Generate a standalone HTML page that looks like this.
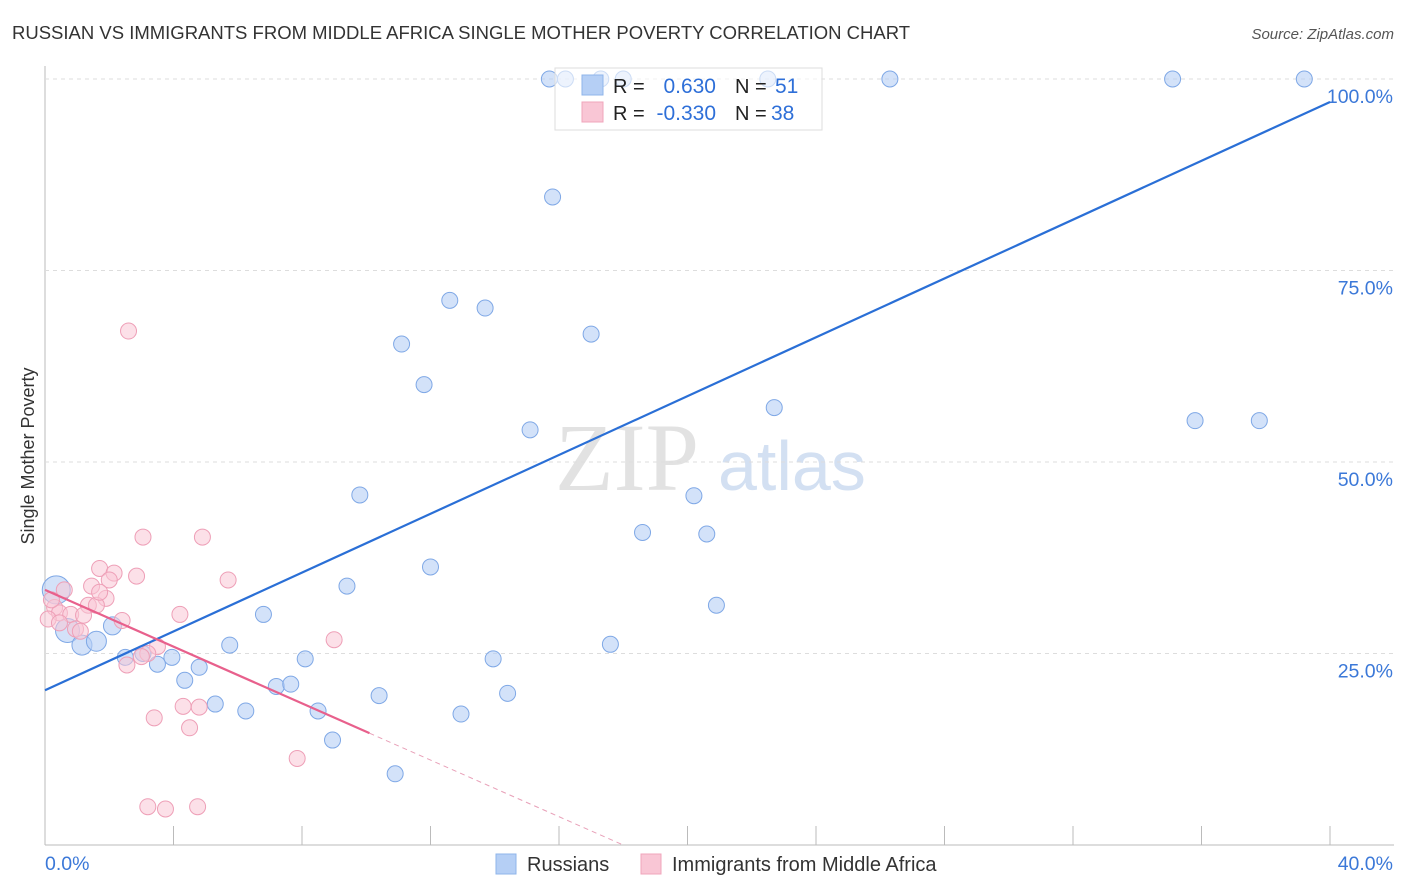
<!DOCTYPE html>
<html><head><meta charset="utf-8"><style>
body{margin:0;background:#fff;font-family:"Liberation Sans",sans-serif}
svg{display:block}
</style></head><body>
<svg id="c" width="1406" height="892" xmlns="http://www.w3.org/2000/svg">
<text x="12" y="39" font-size="18.5" fill="#333">RUSSIAN VS IMMIGRANTS FROM MIDDLE AFRICA SINGLE MOTHER POVERTY CORRELATION CHART</text>
<text x="1394" y="39" font-size="15" fill="#555" font-style="italic" text-anchor="end">Source: ZipAtlas.com</text>
<text x="34" y="456" font-size="18" fill="#333" text-anchor="middle" transform="rotate(-90 34 456)">Single Mother Poverty</text>
<g><text x="555" y="490" font-size="96" fill="#e2e2e2" font-family="Liberation Serif,serif">ZIP</text><text x="718" y="490" font-size="70" fill="#d3e0f2">atlas</text></g>
<g id="grid"></g><g id="pts"></g><g id="lines"></g>
<g>
<rect x="555" y="68" width="267" height="62" fill="#fff" fill-opacity="0.6" stroke="#ddd"/>
<rect x="582" y="75" width="21" height="20" fill="#b5cff5" stroke="#8fb4ea"/>
<rect x="582" y="102" width="21" height="20" fill="#f9c6d5" stroke="#f0a5bb"/>
<text x="613" y="93" font-size="20" fill="#222">R =</text><text x="716" y="93" font-size="21" fill="#2e6fd8" text-anchor="end">0.630</text>
<text x="735" y="93" font-size="20" fill="#222">N =</text><text x="775" y="93" font-size="21" fill="#2e6fd8">51</text>
<text x="613" y="120" font-size="20" fill="#222">R =</text><text x="716" y="120" font-size="21" fill="#2e6fd8" text-anchor="end">-0.330</text>
<text x="735" y="120" font-size="20" fill="#222">N =</text><text x="771" y="120" font-size="21" fill="#2e6fd8">38</text>
</g>
<g>
<rect x="496" y="854" width="20" height="20" fill="#b5cff5" stroke="#8fb4ea"/><text x="527" y="871" font-size="20" fill="#333">Russians</text>
<rect x="641" y="854" width="20" height="20" fill="#f9c6d5" stroke="#f0a5bb"/><text x="672" y="871" font-size="20" fill="#333">Immigrants from Middle Africa</text>
</g>
</svg>
<script>
const xTicks=[0,4,8,12,16,20,24,28,32,36,40];
const yTicks=[25,50,75,100];
const yTickLabels=["25.0%","50.0%","75.0%","100.0%"];
const blueX=[15.7,16.2,17.3,18.0,22.5,26.3,35.1,39.2,15.8,12.6,13.7,17.0,11.1,11.8,15.1,22.7,35.8,37.8,9.8,20.2,18.6,20.6,12.0,9.4,20.9,6.8,0.35,0.7,1.15,1.6,2.1,2.5,3.05,3.5,3.95,4.35,4.8,5.3,5.75,6.25,7.2,7.65,8.1,8.5,8.95,10.9,10.4,12.95,13.95,14.4,17.6];
const blueY=[100,100,100,100,100,100,100,100,84.6,71.1,70.1,66.7,65.4,60.1,54.2,57.1,55.4,55.4,45.7,45.6,40.8,40.6,36.3,33.8,31.3,30.1,33.3,28.0,26.1,26.6,28.6,24.5,25.0,23.6,24.5,21.5,23.2,18.4,26.1,17.5,20.7,21.0,24.3,17.5,13.7,9.3,19.5,17.1,24.3,19.8,26.2];
const blueR=[8,8,8,8,8,8,8,8,8,8,8,8,8,8,8,8,8,8,8,8,8,8,8,8,8,8,14,12,10,10,9,8,8,8,8,8,8,8,8,8,8,8,8,8,8,8,8,8,8,8,8];
const pinkX=[2.6,3.05,4.9,1.7,2.15,2.0,2.85,5.7,1.45,0.6,1.9,1.35,1.6,0.3,0.45,0.8,1.2,2.4,4.2,0.95,1.1,0.1,9.0,3.5,3.2,3.0,2.55,4.3,4.8,3.4,4.5,7.85,3.2,3.75,4.75,0.2,0.45,1.7];
const pinkY=[67.1,40.2,40.2,36.1,35.5,34.6,35.1,34.6,33.8,33.3,32.2,31.3,31.3,31.0,30.3,30.1,30.0,29.3,30.1,28.2,27.9,29.5,26.8,25.9,25.0,24.6,23.5,18.1,18.0,16.6,15.3,11.3,5.0,4.7,5.0,32.0,29.0,33.0];
const S='http://www.w3.org/2000/svg';
const X0=45,X1=1330,Y0=845,Y1=79;
const sx=v=>X0+(X1-X0)*v/40, sy=v=>Y0-(Y0-Y1)*v/100;
function mk(t,a,p){const e=document.createElementNS(S,t);for(const k in a)e.setAttribute(k,a[k]);p.appendChild(e);return e;}
const grid=document.getElementById('grid');
mk('line',{x1:X0,y1:66,x2:X0,y2:Y0,stroke:'#bbb'},grid);
mk('line',{x1:X0,y1:Y0,x2:1394,y2:Y0,stroke:'#bbb'},grid);
yTicks.forEach((t,i)=>{
 const g=mk('line',{x1:X0,y1:sy(t),x2:1394,y2:sy(t),stroke:'#ddd','stroke-dasharray':'4,4'},grid);
 
 
 const l=mk('text',{x:1393,y:sy(t)+24,'font-size':19.5,fill:'#3b78d8','text-anchor':'end'},grid);
 l.textContent=yTickLabels[i];
 
 
});
xTicks.forEach(t=>{
 if(t===0)return;
 const m=mk('line',{x1:sx(t),y1:826,x2:sx(t),y2:Y0,stroke:'#bbb'},grid);
 
 
});
const xl0=mk('text',{x:45,y:870,'font-size':19.5,fill:'#3b78d8'},grid);xl0.textContent='0.0%';


const xl1=mk('text',{x:1393,y:870,'font-size':19.5,fill:'#3b78d8','text-anchor':'end'},grid);xl1.textContent='40.0%';


const pts=document.getElementById('pts');
blueX.forEach((v,i)=>{
 const c=mk('circle',{cx:sx(v),cy:sy(blueY[i]),r:blueR[i],fill:'#b5cff5','fill-opacity':0.6,stroke:'#7fa8e6','stroke-width':1},pts);
 
 
});
pinkX.forEach((v,i)=>{
 const c=mk('circle',{cx:sx(v),cy:sy(pinkY[i]),r:8,fill:'#f9c6d5','fill-opacity':0.55,stroke:'#ee9fb7','stroke-width':1},pts);
 
 
});
const lines=document.getElementById('lines');
const bl=mk('line',{x1:sx(0),y1:sy(20.2),x2:sx(40),y2:sy(97.0),stroke:'#2a6fd6','stroke-width':2.2},lines);


const pl=mk('line',{x1:sx(0),y1:sy(33.3),x2:sx(10.1),y2:sy(14.6),stroke:'#e8608c','stroke-width':2.2},lines);


const pd=mk('line',{x1:sx(10.1),y1:sy(14.6),x2:sx(18.0),y2:sy(0),stroke:'#e8a0b8','stroke-width':1,'stroke-dasharray':'5,4'},lines);


</script>
</body></html>
